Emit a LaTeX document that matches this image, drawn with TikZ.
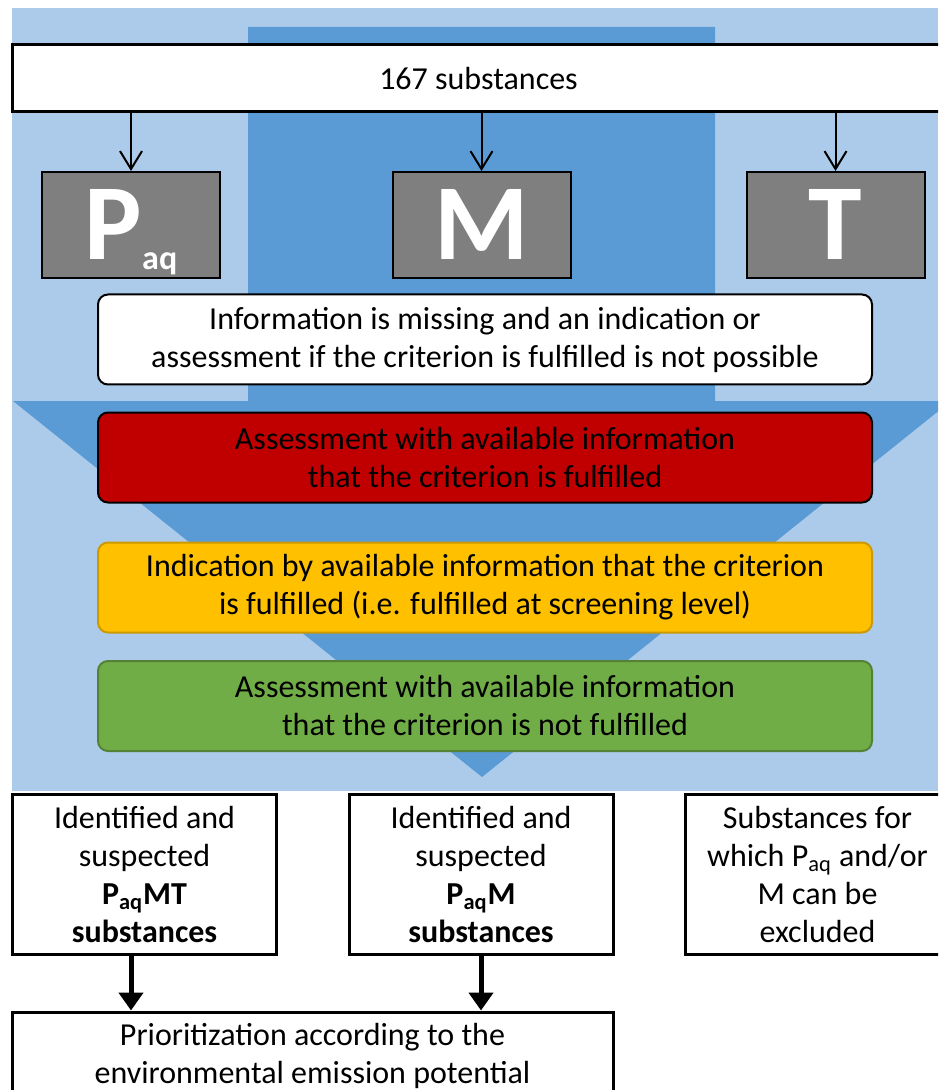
\documentclass[tikz,border=0pt]{standalone}
\usepackage{fontspec}
\setmainfont{Carlito}
\usetikzlibrary{arrows.meta}
\definecolor{bgblue}{RGB}{172,203,234}
\definecolor{arrowblue}{RGB}{91,155,213}
\definecolor{boxgrey}{RGB}{127,127,127}
\definecolor{critred}{RGB}{192,0,0}
\definecolor{crityellow}{RGB}{255,192,0}
\definecolor{yellowline}{RGB}{204,153,0}
\definecolor{critgreen}{RGB}{112,173,71}
\definecolor{greenline}{RGB}{84,130,53}
\begin{document}
\begin{tikzpicture}[x=0.5pt,y=-0.5pt,
    letter/.style={draw,line width=1pt,fill=boxgrey,text=white,minimum width=89pt,minimum height=53pt,inner sep=0pt,text height=35pt,text depth=0pt,font=\fontsize{54}{54}\selectfont\bfseries},
    level/.style={rounded corners=5pt,line width=1pt,minimum width=387pt,minimum height=45pt,align=center,inner sep=0pt,font=\fontsize{16}{19}\selectfont},
    result/.style={draw,line width=1.5pt,fill=white,minimum width=132pt,minimum height=80pt,align=center,inner sep=0pt,font=\fontsize{16}{19}\selectfont},
    thin arrow/.style={line width=1pt,-{Straight Barb[length=9pt,width=11pt,line width=1pt]}},
    fat arrow/.style={line width=2.5pt,-{Triangle[length=9pt,width=12pt]}}]
    \useasboundingbox (0,0) rectangle (938,1090);
    \clip (0,0) rectangle (938,1090);
    %% Background and big arrow
    \fill[bgblue] (12,8) rectangle (938,791);
    \fill[arrowblue] (248,27) -- (715,27) -- (715,401) -- (951,401) -- (482,777) -- (13,401) -- (248,401) -- cycle;
    %% Start
    \node[draw,line width=1.5pt,fill=white,minimum width=466.5pt,minimum height=33.5pt,font=\fontsize{16}{19}\selectfont] (all) at (478.5,78.5) {167 substances};
    %% Criteria
    \node[letter] (P) at (131,225) {P\raisebox{-5pt}{\fontsize{17}{17}\selectfont aq}};
    \node[letter] (M) at (481.5,225) {M};
    \node[letter] (T) at (835.5,225) {T};
    \draw[thin arrow] (P |- all.south) -- (P);
    \draw[thin arrow] (M |- all.south) -- (M);
    \draw[thin arrow] (T |- all.south) -- (T);
    %% Assessment levels
    \node[level,draw=black,fill=white] (missing) at (485,339.5) {Information is missing and an indication or\\assessment if the criterion is fulfilled is not possible};
    \node[level,draw=black,fill=critred] (fulfilled) at (485,457.5) {Assessment with available information\\that the criterion is fulfilled};
    \node[level,draw=yellowline,fill=crityellow] (screening) at (485,587.5) {Indication by available information that the criterion\\is fulfilled (i.e. fulfilled at screening level)};
    \node[level,draw=greenline,fill=critgreen] (notfulfilled) at (485,706) {Assessment with available information\\that the criterion is not fulfilled};
    %% Results
    \node[result] (pmt) at (144.5,874) {Identified and\\suspected\\\textbf{P\textsubscript{aq}MT}\\\textbf{substances}};
    \node[result] (pm) at (481,874) {Identified and\\suspected\\\textbf{P\textsubscript{aq}M}\\\textbf{substances}};
    \node[result] (excl) at (817.5,874) {Substances for\\which P\textsubscript{aq} and/or\\M can be\\excluded};
    \node[result,minimum width=300.5pt,minimum height=44pt] (prio) at (312.5,1056) {Prioritization according to the\\environmental emission potential};
    \draw[fat arrow] (pmt.south -| P) -- (prio.north -| P);
    \draw[fat arrow] (pm.south) -- (prio.north -| pm);
\end{tikzpicture}
\end{document}
